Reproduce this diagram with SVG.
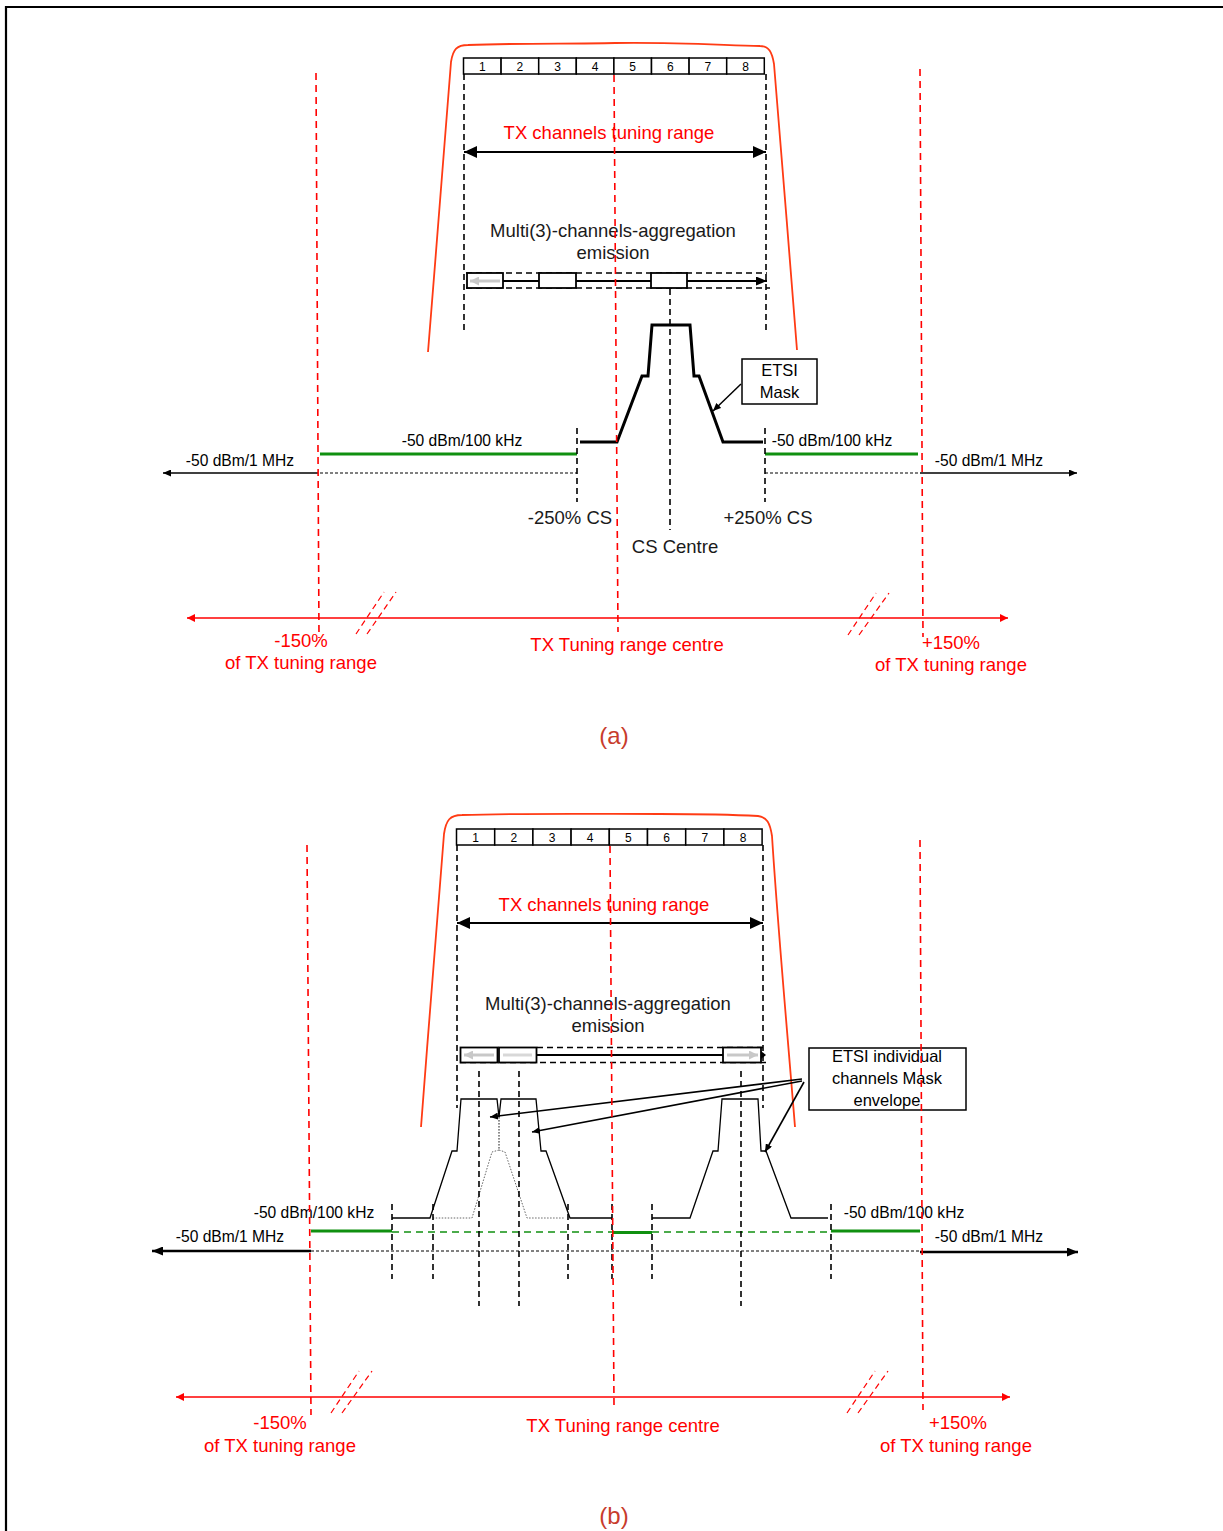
<svg xmlns="http://www.w3.org/2000/svg" width="1223" height="1531" viewBox="0 0 1223 1531">
<defs>
<style>
.frame{stroke:#000;stroke-width:2.2;fill:none}
.envelope{stroke:#ff3b14;stroke-width:1.8;fill:none}
.chbox{fill:#fff;stroke:#000;stroke-width:1.5}
.chnum{font-family:"Liberation Sans",Arial,sans-serif;font-size:12px;fill:#000;text-anchor:middle}
.bdash{stroke:#000;stroke-width:1.6;stroke-dasharray:6,4;fill:none}
.tdash{stroke:#000;stroke-width:1;stroke-dasharray:3,2;fill:none}
.rdash{stroke:#ff0000;stroke-width:1.6;stroke-dasharray:7,5;fill:none}
.rbreak{stroke:#ff0000;stroke-width:1.2;stroke-dasharray:6,4;fill:none}
.rtxt{font-family:"Liberation Sans",Arial,sans-serif;font-size:18.5px;fill:#ff0000;text-anchor:middle}
.ktxt{font-family:"Liberation Sans",Arial,sans-serif;font-size:18.5px;fill:#1a1a1a;text-anchor:middle}
.ctxt{font-family:"Liberation Sans",Arial,sans-serif;font-size:15.6px;fill:#000;text-anchor:middle}
.btxt{font-family:"Liberation Sans",Arial,sans-serif;font-size:16.5px;fill:#000;text-anchor:middle}
.cap{font-family:"Liberation Sans",Arial,sans-serif;font-size:24px;fill:#c83c2c;text-anchor:middle}
.green{stroke:#109010;stroke-width:3.2;fill:none}
.gdash{stroke:#109010;stroke-width:1.6;stroke-dasharray:7,5;fill:none}
.mask{stroke:#000;stroke-width:3;fill:none;stroke-linejoin:miter}
.mask2{stroke:#000;stroke-width:1.3;fill:none}
.dot{stroke:#666;stroke-width:1;stroke-dasharray:1.5,1.5;fill:none}
.agg{fill:#fff;stroke:#000;stroke-width:1.8}
.label{fill:#fff;stroke:#000;stroke-width:1.5}
</style>
<marker id="bigHead" viewBox="0 0 13 12" refX="13" refY="6" markerWidth="13" markerHeight="12" markerUnits="userSpaceOnUse" orient="auto-start-reverse"><path d="M0,0 L13,6 L0,12 z" fill="#000"/></marker>
<marker id="smallHead" viewBox="0 0 8 7" refX="8" refY="3.5" markerWidth="8" markerHeight="7" markerUnits="userSpaceOnUse" orient="auto-start-reverse"><path d="M0,0 L8,3.5 L0,7 z" fill="#000"/></marker>
<marker id="midHead" viewBox="0 0 11 9" refX="11" refY="4.5" markerWidth="11" markerHeight="9" markerUnits="userSpaceOnUse" orient="auto-start-reverse"><path d="M0,0 L11,4.5 L0,9 z" fill="#000"/></marker>
<marker id="redHead" viewBox="0 0 8 8" refX="8" refY="4" markerWidth="8" markerHeight="8" markerUnits="userSpaceOnUse" orient="auto-start-reverse"><path d="M0,0 L8,4 L0,8 z" fill="#ff0000"/></marker>
<marker id="grayHead" viewBox="0 0 9 9" refX="9" refY="4.5" markerWidth="9" markerHeight="9" markerUnits="userSpaceOnUse" orient="auto-start-reverse"><path d="M0,0 L9,4.5 L0,9 z" fill="#c8c8c8"/></marker>
</defs>

<rect x="0" y="0" width="1223" height="1531" fill="#fff"/>
<g id="frame"><path class="frame" d="M6,1531 V7 H1223"/></g>

<!-- ================= PANEL (a) ================= -->
<g id="a-envelope"><path class="envelope" d="M428,352 C436,250 447,120 451,62 C453,49 457,45 468,45 C520,43 570,44 615,43 C670,42 720,45 760,46 C769,46 772,52 774,64 C781,150 790,260 797,350"/></g>

<g id="a-channels">
<rect class="chbox" x="463.5" y="58" width="37.6" height="16"/>
<rect class="chbox" x="501.1" y="58" width="37.6" height="16"/>
<rect class="chbox" x="538.7" y="58" width="37.6" height="16"/>
<rect class="chbox" x="576.3" y="58" width="37.6" height="16"/>
<rect class="chbox" x="613.9" y="58" width="37.6" height="16"/>
<rect class="chbox" x="651.5" y="58" width="37.6" height="16"/>
<rect class="chbox" x="689.1" y="58" width="37.6" height="16"/>
<rect class="chbox" x="726.7" y="58" width="37.6" height="16"/>
<text class="chnum" x="482.3" y="70.5">1</text>
<text class="chnum" x="519.9" y="70.5">2</text>
<text class="chnum" x="557.5" y="70.5">3</text>
<text class="chnum" x="595.1" y="70.5">4</text>
<text class="chnum" x="632.7" y="70.5">5</text>
<text class="chnum" x="670.3" y="70.5">6</text>
<text class="chnum" x="707.9" y="70.5">7</text>
<text class="chnum" x="745.5" y="70.5">8</text>
</g>

<g id="a-tuning-range">
<text class="rtxt" x="609" y="139">TX channels tuning range</text>
</g>

<g id="a-aggregation">
<text class="ktxt" x="613" y="237">Multi(3)-channels-aggregation</text>
<text class="ktxt" x="613" y="259">emission</text>
<path class="bdash" d="M466,273 H767 M466,288 H770"/>
<rect class="agg" x="467" y="273" width="36" height="15"/>
<line x1="500" y1="281" x2="470" y2="281" stroke="#c8c8c8" stroke-width="3" marker-end="url(#grayHead)"/>
<rect class="agg" x="539" y="273" width="37" height="15"/>
<rect class="agg" x="651" y="273" width="36" height="15"/>
</g>

<g id="a-mask">
<path class="mask" d="M580,442 H617 L642,376 H648 L652,325 H690 L694,376 H699 L723,442 H763"/>
</g>

<g id="a-etsi-label">
<rect class="label" x="742" y="359" width="75" height="45"/>
<text class="btxt" x="779.5" y="376">ETSI</text>
<text class="btxt" x="779.5" y="398">Mask</text>
</g>

<g id="a-levels">
<path class="green" d="M320,454 H577 M765,454 H918"/>
<path class="tdash" d="M320,473 H577 M765,473 H920"/>
<text class="ctxt" x="462" y="446">-50 dBm/100 kHz</text>
<text class="ctxt" x="832" y="446">-50 dBm/100 kHz</text>
<text class="ctxt" x="240" y="466">-50 dBm/1 MHz</text>
<text class="ctxt" x="989" y="466">-50 dBm/1 MHz</text>
</g>

<g id="a-cs-labels">
<text class="ktxt" x="570" y="524">-250% CS</text>
<text class="ktxt" x="768" y="524">+250% CS</text>
<text class="ktxt" x="675" y="553">CS Centre</text>
</g>

<g id="a-range-labels">
<text class="rtxt" x="301" y="647">-150%</text>
<text class="rtxt" x="301" y="669">of TX tuning range</text>
<text class="rtxt" x="627" y="651">TX Tuning range centre</text>
<text class="rtxt" x="951" y="649">+150%</text>
<text class="rtxt" x="951" y="671">of TX tuning range</text>
<text class="cap" x="614" y="744">(a)</text>
</g>

<g id="a-connectors">
<path class="bdash" d="M464,74 V333 M766,74 V333"/>
<path class="bdash" d="M670,289 V530"/>
<path class="bdash" d="M577,428 V502 M765,428 V502"/>
<line x1="464" y1="152" x2="766" y2="152" stroke="#000" stroke-width="2" marker-start="url(#bigHead)" marker-end="url(#bigHead)"/>
<path d="M503,281 H539 M576,281 H651" stroke="#000" stroke-width="1.8" fill="none"/>
<line x1="687" y1="281" x2="767" y2="281" stroke="#000" stroke-width="1.8" marker-end="url(#midHead)"/>
<line x1="318" y1="473" x2="163" y2="473" stroke="#000" stroke-width="1.5" marker-end="url(#smallHead)"/>
<line x1="920" y1="473" x2="1077" y2="473" stroke="#000" stroke-width="1.5" marker-end="url(#smallHead)"/>
<line x1="741" y1="384" x2="713" y2="411" stroke="#000" stroke-width="1.5" marker-end="url(#smallHead)"/>
<line class="rdash" x1="316" y1="73" x2="319" y2="638"/>
<line class="rdash" x1="920" y1="69" x2="923" y2="637"/>
<line class="rdash" x1="614" y1="75" x2="618" y2="632"/>
<line x1="187" y1="618" x2="1008" y2="618" stroke="#ff0000" stroke-width="1.6" marker-start="url(#redHead)" marker-end="url(#redHead)"/>
<path class="rbreak" d="M356,634 L384,592 M367,634 L396,592 M848,635 L876,593 M859,635 L889,593"/>
</g>

<!-- ================= PANEL (b) ================= -->
<g id="b-envelope"><path class="envelope" d="M421,1127 C429,1020 440,890 444,834 C446,820 450,815 462,815 C520,813 600,814 660,814 C720,814 740,815 758,816 C767,817 770,823 772,836 C778,930 788,1040 795,1127"/></g>

<g id="b-channels">
<rect class="chbox" x="456.5" y="829" width="38.2" height="16"/>
<rect class="chbox" x="494.7" y="829" width="38.2" height="16"/>
<rect class="chbox" x="532.9" y="829" width="38.2" height="16"/>
<rect class="chbox" x="571.1" y="829" width="38.2" height="16"/>
<rect class="chbox" x="609.3" y="829" width="38.2" height="16"/>
<rect class="chbox" x="647.5" y="829" width="38.2" height="16"/>
<rect class="chbox" x="685.7" y="829" width="38.2" height="16"/>
<rect class="chbox" x="723.9" y="829" width="38.2" height="16"/>
<text class="chnum" x="475.6" y="841.5">1</text>
<text class="chnum" x="513.8" y="841.5">2</text>
<text class="chnum" x="552" y="841.5">3</text>
<text class="chnum" x="590.2" y="841.5">4</text>
<text class="chnum" x="628.4" y="841.5">5</text>
<text class="chnum" x="666.6" y="841.5">6</text>
<text class="chnum" x="704.8" y="841.5">7</text>
<text class="chnum" x="743" y="841.5">8</text>
</g>

<g id="b-tuning-range">
<text class="rtxt" x="604" y="911">TX channels tuning range</text>
</g>

<g id="b-aggregation">
<text class="ktxt" x="608" y="1010">Multi(3)-channels-aggregation</text>
<text class="ktxt" x="608" y="1032">emission</text>
<path class="bdash" d="M537,1047.5 H763 M460,1062.5 H768"/>
<rect class="agg" x="460.5" y="1047.5" width="37" height="15"/>
<line x1="494" y1="1055" x2="464" y2="1055" stroke="#c8c8c8" stroke-width="3" marker-end="url(#grayHead)"/>
<rect class="agg" x="499" y="1047.5" width="37.5" height="15"/>
<line x1="503" y1="1055" x2="532" y2="1055" stroke="#d8d8d8" stroke-width="3"/>
<rect class="agg" x="723" y="1047.5" width="38" height="15"/>
<line x1="727" y1="1055" x2="758" y2="1055" stroke="#c8c8c8" stroke-width="3" marker-end="url(#grayHead)"/>
</g>

<g id="b-masks">
<path class="mask2" d="M392,1218 H430 L452,1151 H457 L461,1099 H497 L499,1117"/>
<path class="mask2" d="M499,1117 L501,1099 H536 L541,1151 H546 L570,1218 H612"/>
<path class="dot" d="M499,1117 V1150 L505,1152 L527,1218 H565"/>
<path class="dot" d="M499,1117 V1150 L492,1152 L472,1218 H433"/>
<path class="mask2" d="M652,1218 H690 L713,1151 H718 L722,1099 H758 L761,1151 H766 L791,1218 H828"/>
</g>

<g id="b-etsi-label">
<rect class="label" x="809" y="1048" width="157" height="62"/>
<text class="btxt" x="887" y="1062">ETSI individual</text>
<text class="btxt" x="887" y="1084">channels Mask</text>
<text class="btxt" x="887" y="1106">envelope</text>
</g>

<g id="b-levels">
<path class="green" d="M311,1231 H392 M612,1232.5 H652 M831,1231 H920"/>
<path class="gdash" d="M392,1232 H612 M652,1232 H831"/>
<path class="tdash" d="M311,1251 H920"/>
<text class="ctxt" x="314" y="1218">-50 dBm/100 kHz</text>
<text class="ctxt" x="904" y="1218">-50 dBm/100 kHz</text>
<text class="ctxt" x="230" y="1242">-50 dBm/1 MHz</text>
<text class="ctxt" x="989" y="1242">-50 dBm/1 MHz</text>
</g>

<g id="b-range-labels">
<text class="rtxt" x="280" y="1429">-150%</text>
<text class="rtxt" x="280" y="1452">of TX tuning range</text>
<text class="rtxt" x="623" y="1432">TX Tuning range centre</text>
<text class="rtxt" x="958" y="1429">+150%</text>
<text class="rtxt" x="956" y="1452">of TX tuning range</text>
<text class="cap" x="614" y="1524">(b)</text>
</g>

<g id="b-connectors">
<path class="bdash" d="M457,845 V1108 M763,845 V1108"/>
<path class="bdash" d="M479,1071 V1306 M519,1071 V1306 M741,1071 V1306"/>
<path class="bdash" d="M392,1204 V1279 M433,1204 V1279 M568,1204 V1279 M612,1204 V1279 M652,1204 V1279 M831,1204 V1279"/>
<line x1="457" y1="923" x2="763" y2="923" stroke="#000" stroke-width="2" marker-start="url(#bigHead)" marker-end="url(#bigHead)"/>
<line x1="536.5" y1="1055" x2="723" y2="1055" stroke="#000" stroke-width="1.8"/>
<path d="M761,1051 L766,1055 L761,1059 z" fill="#000"/>
<line x1="311" y1="1251" x2="152" y2="1251" stroke="#000" stroke-width="2.6" marker-end="url(#midHead)"/>
<line x1="920" y1="1252" x2="1078" y2="1252" stroke="#000" stroke-width="2.6" marker-end="url(#midHead)"/>
<line x1="802" y1="1079" x2="490" y2="1117" stroke="#000" stroke-width="1.6" marker-end="url(#smallHead)"/>
<line x1="802" y1="1081" x2="532" y2="1132" stroke="#000" stroke-width="1.6" marker-end="url(#smallHead)"/>
<line x1="804" y1="1082" x2="765" y2="1152" stroke="#000" stroke-width="1.6" marker-end="url(#smallHead)"/>
<line class="rdash" x1="307" y1="845" x2="311" y2="1415"/>
<line class="rdash" x1="920" y1="840" x2="923" y2="1410"/>
<line class="rdash" x1="610" y1="846" x2="614" y2="1405"/>
<line x1="176" y1="1397" x2="1010" y2="1397" stroke="#ff0000" stroke-width="1.6" marker-start="url(#redHead)" marker-end="url(#redHead)"/>
<path class="rbreak" d="M331,1413 L359,1371 M342,1413 L372,1371 M847,1413 L875,1371 M858,1413 L888,1371"/>
</g>
</svg>
